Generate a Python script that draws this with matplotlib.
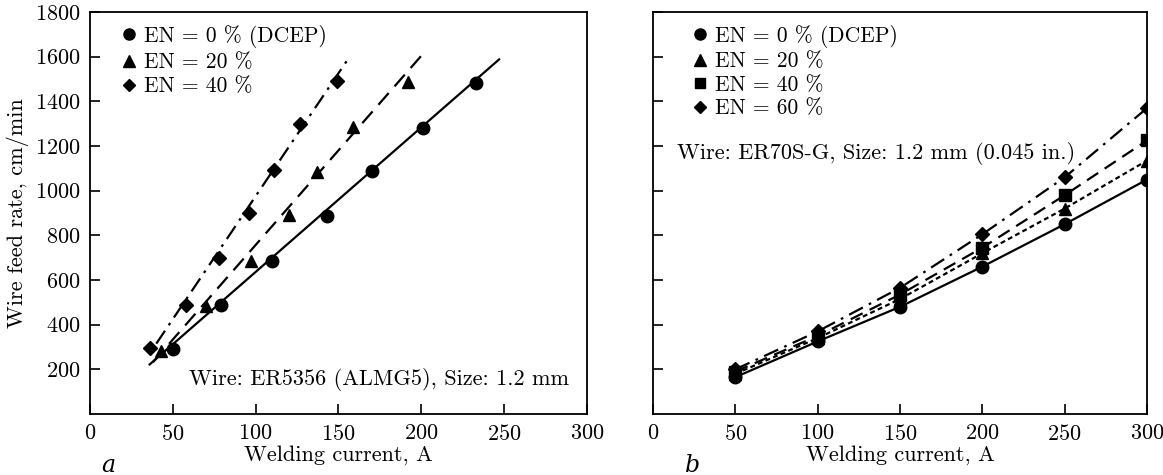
import numpy as np
import matplotlib.pyplot as plt
from matplotlib.lines import Line2D

plt.rcParams['font.family'] = ['cmr10', 'DejaVu Serif']
plt.rcParams['axes.formatter.use_mathtext'] = True
plt.rcParams['mathtext.fontset'] = 'cm'

# Панель a: ER5356, данные
a_x_0 = [50, 79, 110, 143, 170, 201, 233]
a_y_0 = [289, 488, 685, 886, 1089, 1279, 1484]
a_x_20 = [43, 70, 97, 120, 137, 159, 192]
a_y_20 = [281, 483, 685, 890, 1083, 1287, 1487]
a_x_40 = [36, 58, 78, 96, 111, 127, 149]
a_y_40 = [295, 488, 697, 900, 1093, 1297, 1490]

# линии аппроксимации (концы)
fit_x_0, fit_y_0 = [36, 247], [222, 1588]
fit_x_20, fit_y_20 = [38, 202], [232, 1621]
fit_x_40, fit_y_40 = [40, 157], [315, 1603]

# Панель b: ER70S-G
b_x = [50, 100, 150, 200, 250, 300]
b_y_0 = [165, 325, 480, 660, 850, 1050]
b_y_20 = [180, 340, 515, 720, 920, 1135]
b_y_40 = [190, 350, 535, 745, 980, 1225]
b_y_60 = [200, 370, 565, 805, 1060, 1370]

x_ticks = [0, 50, 100, 150, 200, 250, 300]
y_ticks = [200, 400, 600, 800, 1000, 1200, 1400, 1600, 1800]

fs = 16
fs_leg = 15.5
fig = plt.figure(figsize=(11.63, 4.75), dpi=100)
ax1 = fig.add_axes([0.0774, 0.1284, 0.4273, 0.8463])
ax2 = fig.add_axes([0.5615, 0.1284, 0.4248, 0.8463])

ms_c, ms_t, ms_d, ms_s = 9, 9, 7, 8
lw = 1.6

# --- a ---
ax1.plot(fit_x_0, fit_y_0, color='k', lw=lw, ls='-')
ax1.plot(fit_x_20, fit_y_20, color='k', lw=lw, dashes=(7, 4))
ax1.plot(fit_x_40, fit_y_40, color='k', lw=lw, dashes=(7, 3, 1.2, 3))
ax1.plot(a_x_0, a_y_0, 'o', color='k', ms=ms_c)
ax1.plot(a_x_20, a_y_20, '^', color='k', ms=ms_t)
ax1.plot(a_x_40, a_y_40, 'D', color='k', ms=ms_d)

h1 = [Line2D([], [], marker='o', ls='none', color='k', ms=ms_c - 1),
      Line2D([], [], marker='^', ls='none', color='k', ms=ms_t - 1),
      Line2D([], [], marker='D', ls='none', color='k', ms=ms_d - 1)]
ax1.legend(h1, ['EN = 0 % (DCEP)', 'EN = 20 %', 'EN = 40 %'],
           loc='upper left', bbox_to_anchor=(0.03, 1.0), frameon=False,
           fontsize=fs_leg, handletextpad=0.2, handlelength=1.0,
           labelspacing=0.22, borderaxespad=0.2)
ax1.text(60, 155, 'Wire: ER5356 (ALMG5), Size: 1.2 mm', fontsize=fs, va='center')
ax1.set_ylabel('Wire feed rate, cm/min', fontsize=fs, labelpad=4)

# --- b ---
ax2.plot(b_x, b_y_0, '-o', color='k', lw=lw, ms=ms_c)
ax2.plot(b_x, b_y_20, '^', color='k', lw=lw, ms=ms_t, ls='-', dashes=(2.2, 1.5))
ax2.plot(b_x, b_y_40, 's', color='k', lw=lw, ms=ms_s, ls='-', dashes=(6, 3.5))
ax2.plot(b_x, b_y_60, 'D', color='k', lw=lw, ms=ms_d, ls='-', dashes=(7, 3, 1.2, 3))

h2 = [Line2D([], [], marker='o', ls='none', color='k', ms=ms_c - 1),
      Line2D([], [], marker='^', ls='none', color='k', ms=ms_t - 1),
      Line2D([], [], marker='s', ls='none', color='k', ms=ms_s - 1),
      Line2D([], [], marker='D', ls='none', color='k', ms=ms_d - 1)]
ax2.legend(h2, ['EN = 0 % (DCEP)', 'EN = 20 %', 'EN = 40 %', 'EN = 60 %'],
           loc='upper left', bbox_to_anchor=(0.048, 1.0), frameon=False,
           fontsize=fs_leg, handletextpad=0.2, handlelength=1.0,
           labelspacing=0.18, borderaxespad=0.2)
ax2.text(0.048, 0.649, 'Wire: ER70S-G, Size: 1.2 mm (0.045 in.)', fontsize=fs,
         va='center', transform=ax2.transAxes)

for ax in (ax1, ax2):
    ax.set_xlim(0, 300)
    ax.set_ylim(0, 1800)
    ax.set_xticks(x_ticks)
    ax.set_yticks(y_ticks)
    ax.tick_params(direction='in', length=7, width=1.2, labelsize=fs, pad=7)
    ax.set_xlabel('Welding current, A', fontsize=fs, labelpad=1)
    for s in ax.spines.values():
        s.set_linewidth(1.3)
ax2.set_yticklabels([])

fig.text(108 / 1163, 1 - 465 / 475, 'a', fontsize=fs + 1, style='italic',
         family='DejaVu Serif', ha='center', va='center')
fig.text(693 / 1163, 1 - 465 / 475, 'b', fontsize=fs + 1, style='italic',
         family='DejaVu Serif', ha='center', va='center')

fig.savefig('out.png', dpi=100)
